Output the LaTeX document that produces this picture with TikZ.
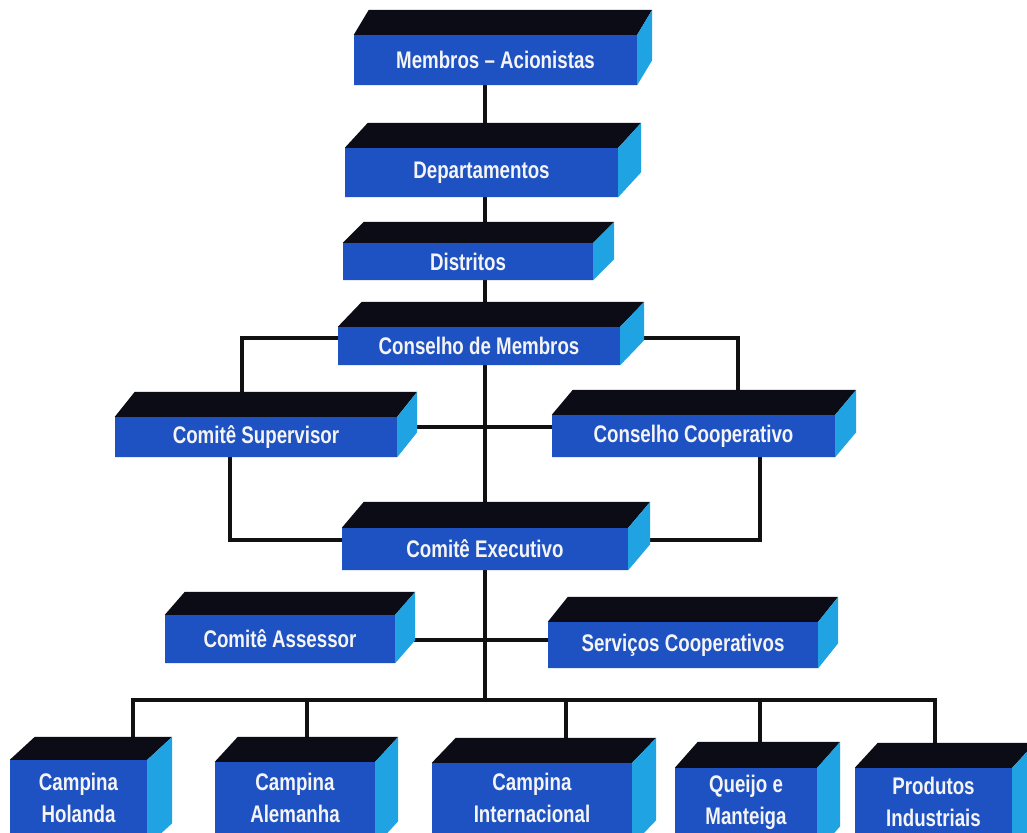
\documentclass[tikz,border=0pt]{standalone}
\usepackage{fontspec}
\newfontfamily\boxfont{Liberation Sans}[FakeStretch=0.78]
\usetikzlibrary{backgrounds}
\definecolor{frontc}{HTML}{1E51C2}
\definecolor{sidec}{HTML}{1FA3E3}
\definecolor{topc}{HTML}{0C0C16}
\definecolor{linec}{HTML}{111111}
\definecolor{textc}{HTML}{F4F4F4}
\tikzset{
  boxface/.style={fill=frontc, text=textc, inner sep=0pt, align=center,
    font=\boxfont\bfseries\fontsize{24}{32}\selectfont},
  conn/.style={draw=linec, line width=4.5pt},
}
% name, cx, cy, w, h, dx, dy, text, extension of the faces below the node
\newcommand\cubebox[9]{%
  \node[boxface, minimum width=#4pt, minimum height=#5pt] (#1) at (#2,#3) {#8};
  \fill[frontc] (#1.south west) rectangle ([yshift=-#9pt]#1.south east);
  \fill[topc] (#1.north west) -- ++(#6,-#7) -- ([shift={(#6,-#7)}]#1.north east) -- (#1.north east) -- cycle;
  \fill[sidec] (#1.north east) -- ++(#6,-#7) -- ([shift={(#6,-#7)},yshift=-#9pt]#1.south east) -- ([yshift=-#9pt]#1.south east) -- cycle;
}
\begin{document}
\begin{tikzpicture}[x=1pt,y=-1pt]
\useasboundingbox (0,0) rectangle (1027,832);
\clip (0,0) rectangle (1027,832);
\cubebox{memb}{495.5}{60}{283}{50}{15}{25}{Membros – Acionistas}{0}
\cubebox{dep}{481.5}{172.5}{273}{49}{23}{25}{Departamentos}{0}
\cubebox{dist}{468}{261.5}{250}{37}{21}{21}{Distritos}{0}
\cubebox{cmem}{479}{346}{282}{38}{24}{25}{Conselho de Membros}{0}
\cubebox{sup}{256}{437}{282}{40}{20}{25}{Comitê Supervisor}{0}
\cubebox{coop}{693.5}{436}{283}{42}{21}{25}{Conselho Cooperativo}{0}
\cubebox{exec}{485}{549}{286}{42}{22}{26}{Comitê Executivo}{0}
\cubebox{ass}{280}{639}{230}{48}{20}{23}{Comitê Assessor}{0}
\cubebox{serv}{683}{645}{270}{46}{20}{25}{Serviços Cooperativos}{0}
\cubebox{hol}{78.5}{798}{137}{76}{25}{23}{Campina\\Holanda}{10}
\cubebox{ale}{295}{798}{160}{72}{23}{25}{Campina\\Alemanha}{12}
\cubebox{int}{532}{798}{200}{70}{24}{25}{Campina\\Internacional}{12}
\cubebox{que}{746}{802}{142}{68}{23}{26}{Queijo e\\Manteiga}{16}
\cubebox{pro}{933.5}{802}{157}{68}{23}{25}{Produtos\\Industriais}{16}
\coordinate (spine) at (485,0);
\coordinate (bus) at (485,700);
\begin{pgfonlayer}{background}
  \fill[white] (0,0) rectangle (1027,832);
  \draw[conn] (spine |- memb.south) -- (bus);
  \draw[conn] ([yshift=8pt]cmem.west) -| ([xshift=-14pt]sup.north);
  \draw[conn] ([yshift=8pt]cmem.east) -| ([xshift=44.5pt]coop.north);
  \draw[conn] ([yshift=10pt]sup.east) -- ([yshift=10pt]sup.east -| coop.west);
  \draw[conn] ([xshift=-26pt]sup.south) |- ([yshift=9pt]exec.west);
  \draw[conn] ([xshift=66.5pt]coop.south) |- ([yshift=9pt]exec.east);
  \draw[conn] ([yshift=-1pt]ass.east) -- ([yshift=-1pt]ass.east -| serv.west);
  \draw[conn] ([xshift=54.5pt]hol.north) |- (bus) -| ([xshift=1.5pt]pro.north);
  \draw[conn] ([xshift=12pt]ale.north |- bus) -- ([xshift=12pt]ale.north);
  \draw[conn] ([xshift=34pt]int.north |- bus) -- ([xshift=34pt]int.north);
  \draw[conn] ([xshift=14pt]que.north |- bus) -- ([xshift=14pt]que.north);
\end{pgfonlayer}
\end{tikzpicture}
\end{document}
